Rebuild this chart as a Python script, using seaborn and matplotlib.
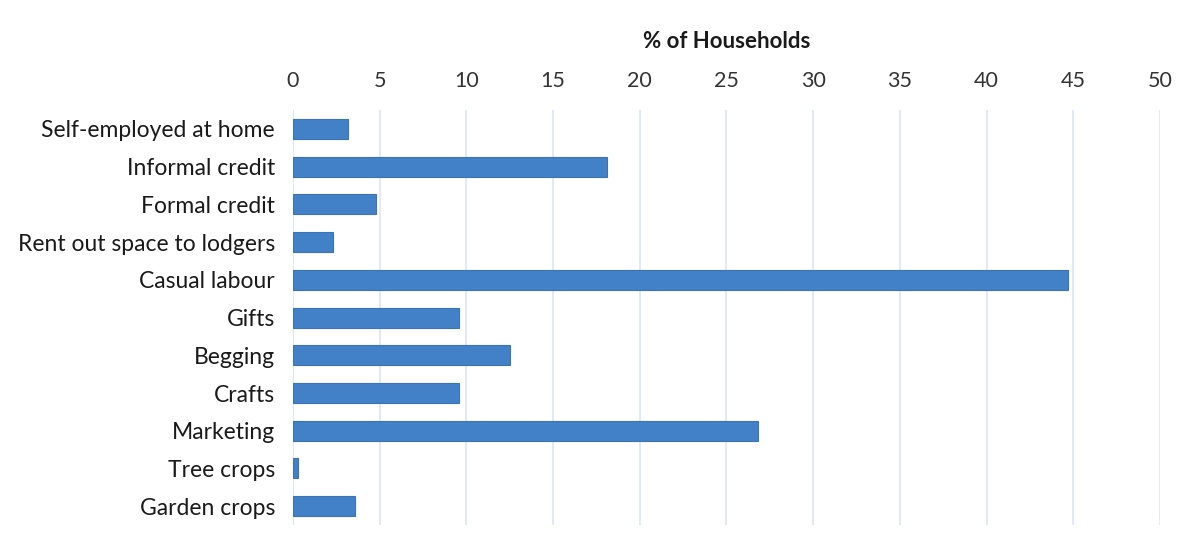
import pandas as pd
import matplotlib.pyplot as plt
import seaborn as sb

# chart data
categories = ['Self-employed at home', 'Informal credit', 'Formal credit', 'Rent out space to lodgers',
              'Casual labour', 'Gifts', 'Begging', 'Crafts', 'Marketing', 'Tree crops', 'Garden crops']
pct_households = [3.2, 18.1, 4.8, 2.3, 44.7, 9.6, 12.5, 9.6, 26.8, 0.3, 3.6]
x_ticks = [0, 5, 10, 15, 20, 25, 30, 35, 40, 45, 50]

df = pd.DataFrame({'Category': categories, 'Pct': pct_households})

sb.set_style("white")
plt.rcParams['font.family'] = ['Lato', 'DejaVu Sans']

fig = plt.figure(figsize=(11.94, 5.38), dpi=100)
ax = fig.add_axes([0.2454, 0.024, 0.7261, 0.7715])

sb.barplot(x='Pct', y='Category', data=df, color='#4281c8', width=0.53, saturation=1,
           edgecolor='#3a74b4', linewidth=0.8, ax=ax, zorder=3)

ax.set_xlim(0, 50)
ax.set_ylim(10.5, -0.5)
ax.set_xticks(x_ticks)
ax.xaxis.tick_top()
ax.xaxis.set_label_position('top')
ax.set_xlabel('% of Households', fontsize=16, fontweight='bold', color='#1a1a1a', labelpad=16)
ax.set_ylabel('')
ax.tick_params(axis='x', length=0, labelsize=15.5, labelcolor='#333333', pad=14)
ax.tick_params(axis='y', length=0, labelsize=16.5, labelcolor='#1a1a1a', pad=13)
for lbl in ax.get_yticklabels():
    lbl.set_va('center_baseline')

ax.grid(axis='x', color='#dce6f2', linewidth=1.2, zorder=0)
ax.grid(axis='y', visible=False)
for s in ax.spines.values():
    s.set_visible(False)
ax.axvline(0, color='#dce6f2', linewidth=1.2, zorder=1)

plt.savefig('out.png', format='png', dpi=100)
